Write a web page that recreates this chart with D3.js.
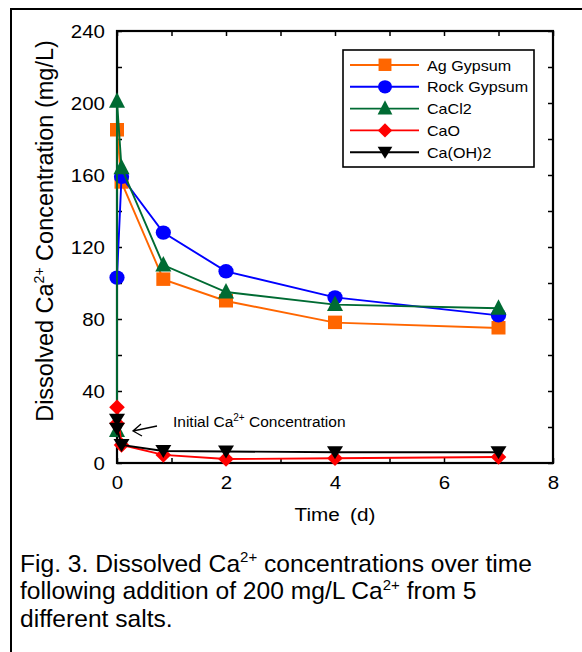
<!DOCTYPE html>
<html><head><meta charset="utf-8">
<script src="https://cdn.jsdelivr.net/npm/d3@7"></script>
<style>body{margin:0;background:#fff}svg{display:block;font-family:Arial,"Liberation Sans",sans-serif}</style>
</head><body>
<svg id="c" width="582" height="652"></svg>
<script>
const times = [0, 0, 0.083, 0.85, 2, 4, 7];
const agGypsum = [null, 185, 156, 102, 90, 78, 75];
const rockGypsum = [null, 103, 159, 128, 106.5, 92, 82];
const cacl2 = [18, 201, 164, 110, 95, 88, 86];
const cao = [22, 31, 10, 4.5, 2.2, 2.6, 3.3];
const caoh2 = [24, 19, 10, 6.7, 6.4, 6, 6];
const seriesNames = ["Ag Gypsum", "Rock Gypsum", "CaCl2", "CaO", "Ca(OH)2"];
const seriesColors = ["#FF6600", "#0000FF", "#006B33", "#FF0000", "#000000"];
const seriesShapes = ["square", "circle", "triUp", "diamond", "triDown"];
const xTicks = [0, 2, 4, 6, 8];
const yTicks = [0, 40, 80, 120, 160, 200, 240];

const svg = d3.select("#c");
const L = 117, R = 553, T = 31, B = 463;
const SX = 1.17;
const x = d3.scaleLinear().domain([0, 8]).range([L, R]);
const y = d3.scaleLinear().domain([0, 240]).range([B, T]);

// outer frame (left/top)
svg.append("path").attr("d", "M11,652 L11,9 L582,9").attr("fill", "none").attr("stroke", "#000").attr("stroke-width", 2);

// axes with inward ticks
const g = svg.append("g");
g.append("g").attr("transform", `translate(0,${B})`)
  .call(d3.axisBottom(x).tickValues(d3.range(0, 9, 1)).tickSize(-5).tickFormat(d => xTicks.includes(d) ? d : ""))
  .call(a => a.select(".domain").remove())
  .call(a => a.selectAll("text").attr("dy", null).attr("y", 26).attr("font-size", 17.5)
    .attr("font-family", "Arial, Liberation Sans").attr("transform", `scale(${SX},1)`))
  .call(a => a.selectAll("line").attr("stroke-width", 1.5));
g.append("g").attr("transform", `translate(0,${T})`)
  .call(d3.axisTop(x).tickValues(d3.range(0, 9, 1)).tickSize(-5).tickFormat(""))
  .call(a => a.select(".domain").remove())
  .call(a => a.selectAll("line").attr("stroke-width", 1.5));
g.append("g").attr("transform", `translate(${L},0)`)
  .call(d3.axisLeft(y).tickValues(d3.range(0, 241, 20)).tickSize(-5).tickFormat(d => yTicks.includes(d) ? d : ""))
  .call(a => a.select(".domain").remove())
  .call(a => a.selectAll("text").attr("x", -12 / SX).attr("dy", "0.36em").attr("font-size", 17.5)
    .attr("font-family", "Arial, Liberation Sans").attr("transform", `scale(${SX},1)`))
  .call(a => a.selectAll("line").attr("stroke-width", 1.5));
g.append("g").attr("transform", `translate(${R},0)`)
  .call(d3.axisRight(y).tickValues(d3.range(0, 241, 20)).tickSize(-5).tickFormat(""))
  .call(a => a.select(".domain").remove())
  .call(a => a.selectAll("line").attr("stroke-width", 1.5));
svg.append("rect").attr("x", L).attr("y", T).attr("width", R - L).attr("height", B - T)
  .attr("fill", "none").attr("stroke", "#000").attr("stroke-width", 2.2);

// axis titles
const yl = svg.append("text").attr("transform", `translate(53,231) rotate(-90)`)
  .attr("text-anchor", "middle").attr("font-size", 23.5);
yl.append("tspan").text("Dissolved Ca");
yl.append("tspan").text("2+").attr("font-size", 14).attr("dy", -9);
yl.append("tspan").text(" Concentration (mg/L)").attr("dy", 9);
svg.append("text").attr("transform", `translate(${(L + R) / 2},521) scale(1.12,1)`).attr("text-anchor", "middle")
  .attr("font-size", 18.5).attr("word-spacing", 4).text("Time (d)");

// symbols
function sym(sel, shape, color) {
  if (shape === "square") sel.append("rect").attr("x", -7).attr("y", -7).attr("width", 14).attr("height", 13.5).attr("fill", color);
  else if (shape === "circle") sel.append("ellipse").attr("rx", 7.6).attr("ry", 7.2).attr("fill", color);
  else if (shape === "triUp") sel.append("path").attr("d", "M0,-9 L8,6.5 L-8,6.5Z").attr("fill", color);
  else if (shape === "triDown") sel.append("path").attr("d", "M0,7 L8,-6 L-8,-6Z").attr("fill", color);
  else if (shape === "diamond") sel.append("path").attr("d", "M0,-7.8 L7.8,0 L0,7.8 L-7.8,0Z").attr("fill", color);
}

const allSeries = [agGypsum, rockGypsum, cacl2, cao, caoh2];
const line = d3.line().defined(d => d[1] != null).x(d => x(d[0])).y(d => y(d[1]));
allSeries.forEach((vals, i) => {
  const pts = times.map((t, j) => [t, vals[j]]).filter(p => p[1] != null);
  const sg = svg.append("g");
  sg.append("path").attr("d", line(pts)).attr("fill", "none").attr("stroke", seriesColors[i]).attr("stroke-width", 1.9);
  pts.forEach(p => {
    const m = sg.append("g").attr("transform", `translate(${x(p[0])},${y(p[1])})`);
    sym(m, seriesShapes[i], seriesColors[i]);
  });
});

// legend
const lg = svg.append("g");
lg.append("rect").attr("x", 343).attr("y", 50).attr("width", 191).attr("height", 117)
  .attr("fill", "#fff").attr("stroke", "#000").attr("stroke-width", 1.6);
seriesNames.forEach((n, i) => {
  const yy = 65 + i * 21.8;
  lg.append("line").attr("x1", 350).attr("x2", 419).attr("y1", yy).attr("y2", yy)
    .attr("stroke", seriesColors[i]).attr("stroke-width", 1.9);
  sym(lg.append("g").attr("transform", `translate(385,${yy}) scale(0.92)`), seriesShapes[i], seriesColors[i]);
  lg.append("text").attr("transform", `translate(427,${yy + 5.5}) scale(1.15,1)`).attr("font-size", 14).text(n);
});

// annotation
const an = svg.append("text").attr("x", 173).attr("y", 427).attr("font-size", 15.5);
an.append("tspan").text("Initial Ca");
an.append("tspan").text("2+").attr("font-size", 10).attr("dy", -6);
an.append("tspan").text(" Concentration").attr("dy", 6);
svg.append("path").attr("d", "M157,426 L133,431 M141,424 L133,431 L142,436").attr("fill", "none").attr("stroke", "#000").attr("stroke-width", 1.3);

// caption
const cap = svg.append("g").attr("font-size", 24.6);
const c1 = cap.append("text").attr("x", 20).attr("y", 572);
c1.append("tspan").text("Fig. 3. Dissolved Ca");
c1.append("tspan").text("2+").attr("font-size", 15).attr("dy", -10);
c1.append("tspan").text(" concentrations over time").attr("dy", 10);
const c2 = cap.append("text").attr("x", 20).attr("y", 599);
c2.append("tspan").text("following addition of 200 mg/L Ca");
c2.append("tspan").text("2+").attr("font-size", 15).attr("dy", -9);
c2.append("tspan").text(" from 5").attr("dy", 9);
cap.append("text").attr("x", 20).attr("y", 627).text("different salts.");
</script>
</body></html>
